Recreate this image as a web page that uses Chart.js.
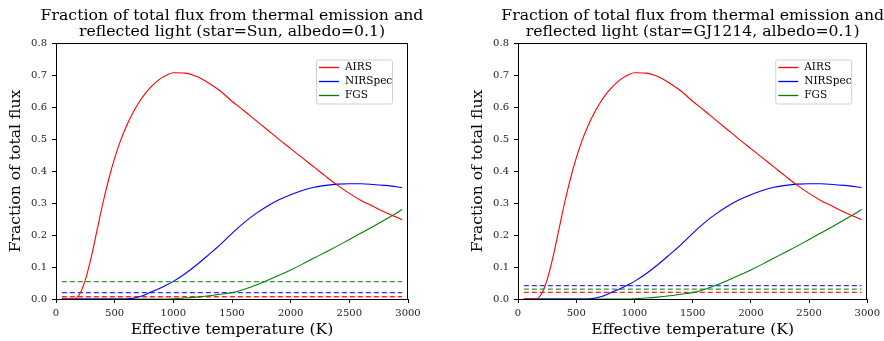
<!DOCTYPE html>
<html>
<head>
<meta charset="utf-8">
<script src="https://cdn.jsdelivr.net/npm/chart.js@4.4.1/dist/chart.umd.min.js"></script>
<style>
  html, body { margin: 0; padding: 0; background: #fff; }
  #wrap { position: relative; width: 884px; height: 341px; }
  .panel { position: absolute; top: 0; width: 442px; height: 341px; }
</style>
</head>
<body>
<div id="wrap">
  <div class="panel" style="left:0"><canvas id="chartSun"></canvas></div>
  <div class="panel" style="left:442px"><canvas id="chartGJ"></canvas></div>
</div>
<script>
// effective temperature grid (K)
const temps = [50, 100, 150, 200, 250, 300, 350, 400, 450, 500, 550, 600, 650, 700, 750, 800, 850, 900, 950, 1000,
               1100, 1200, 1300, 1400, 1500, 1600, 1700, 1800, 1900, 2000, 2100, 2200, 2300, 2400, 2500, 2600, 2700, 2800, 2900, 2950];

// fraction of total flux per instrument
const airs = [0, 0, 0, 0.015, 0.06, 0.13, 0.215, 0.30, 0.375, 0.44, 0.495, 0.54, 0.578, 0.61, 0.637, 0.659, 0.677, 0.691, 0.701, 0.707,
              0.706, 0.695, 0.675, 0.650, 0.618, 0.589, 0.559, 0.529, 0.499, 0.470, 0.441, 0.412, 0.383, 0.355, 0.330, 0.308, 0.290, 0.272, 0.256, 0.248];
const nirspec = [0, 0, 0, 0, 0, 0, 0, 0, 0, 0, 0, 0, 0.002, 0.006, 0.012, 0.020, 0.028, 0.036, 0.045, 0.055,
                 0.079, 0.107, 0.138, 0.170, 0.205, 0.238, 0.266, 0.290, 0.310, 0.326, 0.339, 0.349, 0.355, 0.359, 0.360, 0.360, 0.358, 0.355, 0.351, 0.348];
const fgs = [0, 0, 0, 0, 0, 0, 0, 0, 0, 0, 0, 0, 0, 0, 0, 0, 0, 0, 0, 0.001,
             0.003, 0.006, 0.010, 0.015, 0.020, 0.030, 0.043, 0.058, 0.074, 0.091, 0.109, 0.128, 0.147, 0.166, 0.186, 0.206, 0.226, 0.247, 0.268, 0.280];

// dashed reference levels [AIRS, NIRSpec, FGS]
const dashTemps = [50, 2950];
const sunLevels = [0.007, 0.020, 0.054];
const gjLevels = [0.021, 0.042, 0.031];

const names = ['AIRS', 'NIRSpec', 'FGS'];
const colors = ['#ff0000', '#0000ff', '#008000'];
const dashColors = ['rgba(255,0,0,0.85)', 'rgba(0,0,255,0.8)', 'rgba(0,128,0,0.8)'];

const xTicks = [0, 500, 1000, 1500, 2000, 2500, 3000];
const yTicks = [0, 0.1, 0.2, 0.3, 0.4, 0.5, 0.6, 0.7, 0.8];

const SERIF = '"DejaVu Serif", "Liberation Serif", serif';

function pts(ys) {
    return temps.map((t, i) => ({ x: t, y: ys[i] }));
}

function buildDatasets(levels) {
    const curves = [airs, nirspec, fgs].map((ys, i) => ({
        label: names[i],
        data: pts(ys),
        borderColor: colors[i],
        borderWidth: 1.1,
        pointRadius: 0,
        cubicInterpolationMode: 'monotone',
        inLegend: true
    }));
    const dashes = levels.map((v, i) => ({
        label: names[i] + ' floor',
        data: dashTemps.map(t => ({ x: t, y: v })),
        borderColor: dashColors[i],
        borderWidth: 1.3,
        borderDash: [5, 3],
        pointRadius: 0
    }));
    return curves.concat(dashes);
}

// two-line title over the axes, box around the plot, legend box inside
const decorPlugin = {
    id: 'decor',
    afterDraw(chart, args, opts) {
        const ctx = chart.ctx;
        const a = chart.chartArea;
        ctx.save();
        // frame
        ctx.strokeStyle = '#000';
        ctx.lineWidth = 1;
        ctx.strokeRect(Math.round(a.left) + 0.5, Math.round(a.top) + 0.5,
                       Math.round(a.right - a.left) - 1, Math.round(a.bottom - a.top));
        // title
        ctx.fillStyle = '#000';
        ctx.font = '15.7px ' + SERIF;
        ctx.textAlign = 'center';
        ctx.textBaseline = 'alphabetic';
        const cx = (a.left + a.right) / 2;
        ctx.fillText(opts.lines[0], cx, 20);
        ctx.fillText(opts.lines[1], cx, 35.5);
        // legend
        const w = 76, h = 44;
        const bx = a.right - 16 - w, by = a.top + 16.5;
        ctx.fillStyle = 'rgba(255,255,255,0.85)';
        ctx.strokeStyle = '#d0d0d0';
        ctx.beginPath();
        ctx.roundRect(bx + 0.5, by + 0.5, w, h, 2);
        ctx.fill();
        ctx.stroke();
        ctx.font = '10.5px ' + SERIF;
        ctx.textAlign = 'left';
        ctx.textBaseline = 'middle';
        const items = chart.data.datasets.filter(d => d.inLegend);
        items.forEach((d, i) => {
            const y = by + 8 + i * 14;
            ctx.strokeStyle = d.borderColor;
            ctx.lineWidth = 1.3;
            ctx.beginPath();
            ctx.moveTo(bx + 3, y);
            ctx.lineTo(bx + 23, y);
            ctx.stroke();
            ctx.fillStyle = '#000';
            ctx.fillText(d.label, bx + 29, y);
        });
        ctx.restore();
    }
};

function makeChart(id, levels, titleLines, padLeft, padRight) {
    return new Chart(document.getElementById(id), {
        type: 'line',
        data: { datasets: buildDatasets(levels) },
        options: {
            responsive: true,
            maintainAspectRatio: false,
            animation: false,
            layout: { padding: { left: padLeft, right: padRight, top: 43, bottom: 0 } },
            plugins: {
                legend: { display: false },
                tooltip: { enabled: false },
                decor: { lines: titleLines }
            },
            scales: {
                x: {
                    type: 'linear',
                    min: 0, max: 3000,
                    afterBuildTicks: s => { s.ticks = xTicks.map(v => ({ value: v })); },
                    afterFit: s => { s.height = 42; },
                    grid: { drawOnChartArea: false, tickLength: 4, color: '#000', drawTicks: true },
                    border: { display: false },
                    ticks: { color: '#222', padding: 4, maxRotation: 0, font: { family: SERIF, size: 10 },
                             callback: v => String(v) },
                    title: { display: true, text: 'Effective temperature (K)', color: '#000',
                             padding: { top: 0, bottom: 2 }, font: { family: SERIF, size: 15.6 } }
                },
                y: {
                    min: 0, max: 0.8,
                    afterBuildTicks: s => { s.ticks = yTicks.map(v => ({ value: v })); },
                    afterFit: s => { s.width = 56; },
                    grid: { drawOnChartArea: false, tickLength: 4, color: '#000', drawTicks: true },
                    border: { display: false },
                    ticks: { color: '#222', padding: 5, font: { family: SERIF, size: 10 },
                             callback: v => v.toFixed(1) },
                    title: { display: true, text: 'Fraction of total flux', color: '#000',
                             padding: { top: 7, bottom: 0 }, font: { family: SERIF, size: 15.6 } }
                }
            }
        },
        plugins: [decorPlugin]
    });
}

makeChart('chartSun', sunLevels,
    ['Fraction of total flux from thermal emission and', 'reflected light (star=Sun, albedo=0.1)'], 0, 34);
makeChart('chartGJ', gjLevels,
    ['Fraction of total flux from thermal emission and', 'reflected light (star=GJ1214, albedo=0.1)'], 20, 15);
</script>
</body>
</html>
